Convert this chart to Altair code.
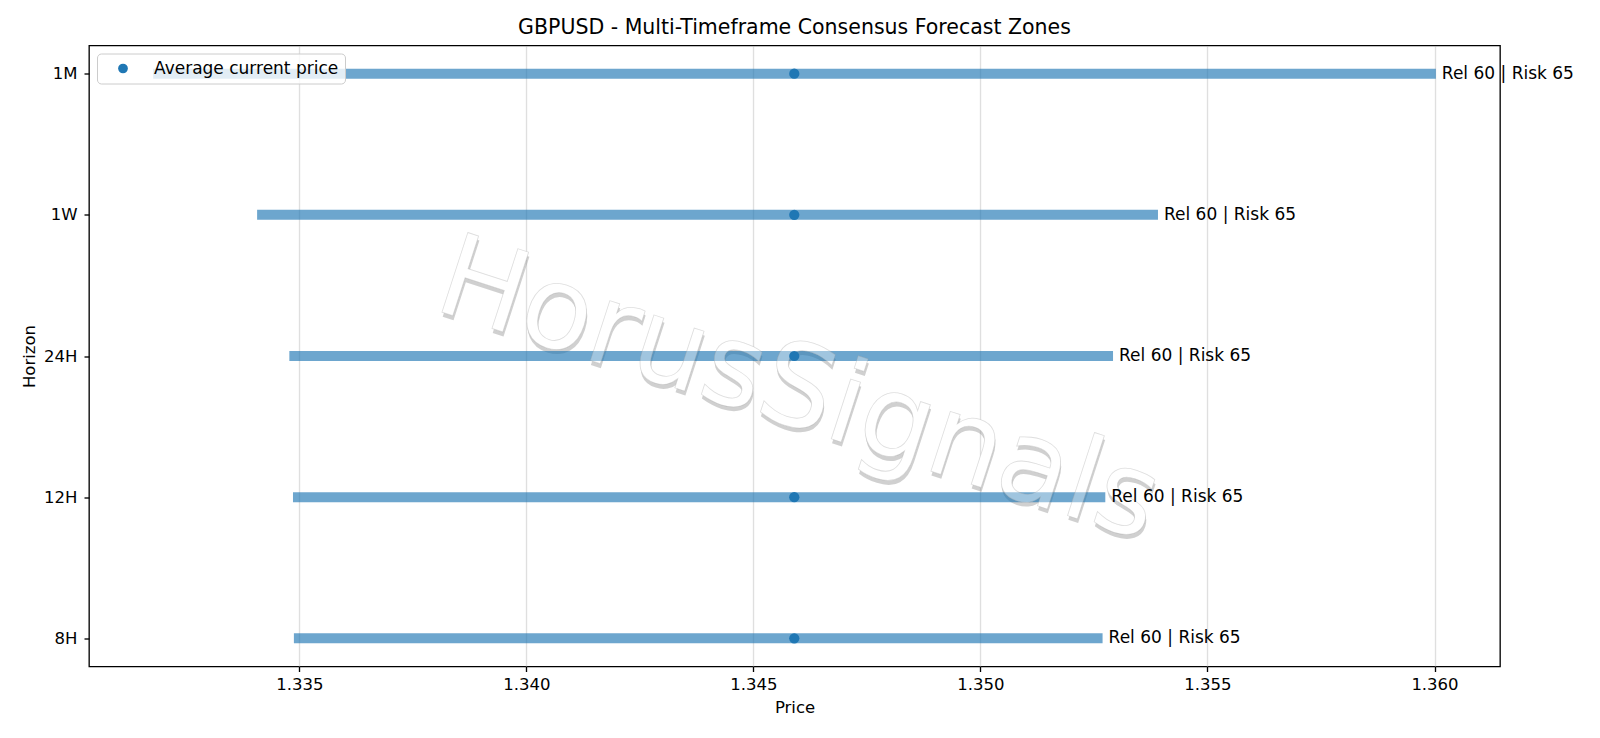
import altair as alt
import pandas as pd

# ---- data ----
horizons = ["1M", "1W", "24H", "12H", "8H"]
zone_low = [1.33178, 1.33407, 1.33478, 1.33486, 1.33488]
zone_high = [1.36003, 1.35391, 1.35292, 1.35275, 1.35269]
current_price = [1.3459, 1.3459, 1.3459, 1.3459, 1.3459]
annotations = ["Rel 60 | Risk 65"] * 5
x_ticks = [1.335, 1.340, 1.345, 1.350, 1.355, 1.360]
legend_label = "Average current price"
title_text = "GBPUSD - Multi-Timeframe Consensus Forecast Zones"
watermark_text = "HorusSignals"

df = pd.DataFrame({
    "horizon": horizons,
    "low": zone_low,
    "high": zone_high,
    "current": current_price,
    "label": annotations,
    "series": [legend_label] * len(horizons),
})
wm = pd.DataFrame({"t": [watermark_text]})

# matplotlib-like 5% margins
lo, hi = min(zone_low), max(zone_high)
m = (hi - lo) * 0.05
x_domain = [lo - m, hi + m]

W, H = 1411, 621
FONT = "DejaVu Sans"
BLUE = "#1f77b4"
WM_SIZE = 115
WM_ANGLE = 18

x_scale = alt.Scale(domain=x_domain, nice=False, zero=False)
y_scale = alt.Scale(type="point", padding=0.2)
x_axis = alt.Axis(values=x_ticks, format=".3f", grid=True, title="Price",
                  labelPadding=5.3, titlePadding=5.7)
y_axis = alt.Axis(grid=False, title="Horizon", labelPadding=7, titlePadding=6.4)

X = lambda f: alt.X(f, scale=x_scale, axis=x_axis)
Y = alt.Y("horizon:N", sort=horizons, scale=y_scale, axis=y_axis)

wm_x = alt.value(W * 0.503)
wm_y = alt.value(H * 0.557)

wm_shadow = alt.Chart(wm).mark_text(
    font=FONT, fontSize=WM_SIZE, angle=WM_ANGLE, align="center", baseline="middle",
    color="#999999", opacity=0.45, dx=2, dy=4,
).encode(x=wm_x, y=wm_y, text="t:N")

wm_fill = alt.Chart(wm).mark_text(
    font=FONT, fontSize=WM_SIZE, angle=WM_ANGLE, align="center", baseline="middle",
    color="white", opacity=1,
).encode(x=wm_x, y=wm_y, text="t:N")

bars = alt.Chart(df).mark_rule(
    strokeWidth=10, color=BLUE, opacity=0.65, strokeCap="butt"
).encode(x=X("low:Q"), x2="high:Q", y=Y)

wm_top = alt.Chart(wm).mark_text(
    font=FONT, fontSize=WM_SIZE, angle=WM_ANGLE, align="center", baseline="middle",
    fill="white", fillOpacity=0.35, stroke="#a0a0a0", strokeWidth=0.8,
    strokeOpacity=0.35,
).encode(x=wm_x, y=wm_y, text="t:N")

points = alt.Chart(df).mark_circle(size=105, opacity=1).encode(
    x=X("current:Q"), y=Y,
    color=alt.Color(
        "series:N",
        scale=alt.Scale(range=[BLUE]),
        legend=alt.Legend(
            title=None, orient="none", legendX=8, legendY=8,
            symbolType="circle", symbolSize=95, symbolStrokeWidth=0,
            symbolOffset=11, labelOffset=22.5, labelLimit=400,
            labelFont=FONT, labelFontSize=17, labelColor="black",
            padding=6.5, fillColor="rgba(255,255,255,0.8)",
            strokeColor="#cccccc", cornerRadius=4,
        ),
    ),
)

texts = alt.Chart(df).mark_text(
    align="left", baseline="middle", dx=6, font=FONT, fontSize=17,
    color="black",
).encode(x=X("high:Q"), y=Y, text="label:N")

chart = alt.layer(wm_shadow, wm_fill, bars, wm_top, points, texts).properties(
    width=W, height=H,
    background="white",
    autosize=alt.AutoSizeParams(type="none"),
    padding={"left": 81, "top": 37.5, "right": 90, "bottom": 55},
    title=alt.TitleParams(
        title_text, font=FONT, fontSize=20.5, fontWeight="normal",
        color="black", anchor="middle", frame="group", offset=11, dy=20,
        baseline="alphabetic",
    ),
).configure_view(
    stroke="black", strokeWidth=1.33
).configure_axis(
    domain=False, tickColor="black", tickWidth=1.33, tickSize=5,
    labelFont=FONT, labelFontSize=16.5, labelColor="black",
    titleFont=FONT, titleFontSize=16.5, titleFontWeight="normal",
    titleColor="black", gridColor="#b0b0b0", gridOpacity=0.4, gridWidth=1.33,
)

chart.save("out.html", embed_options={"renderer": "svg", "actions": False})
